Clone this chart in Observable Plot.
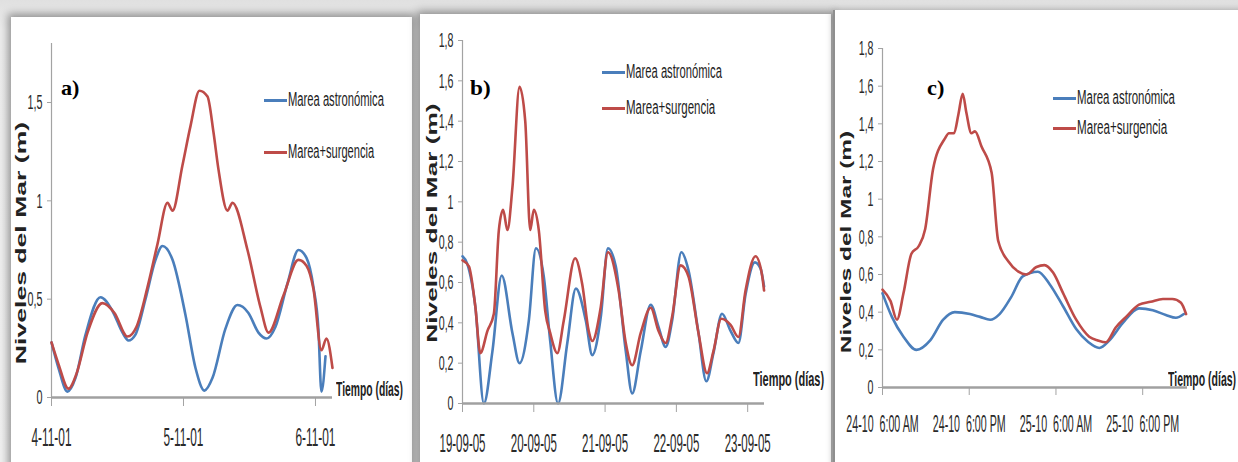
<!DOCTYPE html>
<html><head><meta charset="utf-8">
<script src="https://cdn.jsdelivr.net/npm/d3@7"></script>
<script src="https://cdn.jsdelivr.net/npm/@observablehq/plot@0.6"></script>
<style>
html,body{margin:0;padding:0;}
body{width:1238px;height:462px;overflow:hidden;position:relative;background:linear-gradient(#e0e0e0,#ececec 30px,#f0f0f0);}
.panel{position:absolute;background:#fff;}
.txt{position:absolute;white-space:pre;line-height:1;}
.sw{position:absolute;height:3px;}
</style></head><body>
<div class="panel" style="left:11px;top:17px;width:401px;height:460px;box-shadow:0 0 8px 3px rgba(0,0,0,.38)"></div>
<div class="panel" style="left:420px;top:14px;width:411px;height:460px;box-shadow:0 0 8px 3px rgba(0,0,0,.38)"></div>
<div class="panel" style="left:833px;top:10px;width:420px;height:460px;border-left:2px solid #8f8f8f;box-shadow:0 0 6px 1px rgba(0,0,0,.25)"></div>
<script>
// ---------- DATA ----------
const seriesNames = ["Marea astronómica", "Marea+surgencia"];
const yTitle = "Niveles del Mar (m)";
const xTitle = "Tiempo (días)";

// Panel a) — x in days from 4-11-01
const aTickPos = [0, 1, 2];
const aTickLabels = ["4-11-01", "5-11-01", "6-11-01"];
const aYTicks = [0, 0.5, 1, 1.5];
const aAstroT = [0, 0.053, 0.121, 0.182, 0.258, 0.371, 0.462, 0.538, 0.583, 0.636, 0.712, 0.788, 0.841, 0.917, 1.015, 1.091, 1.159, 1.220, 1.318, 1.409, 1.492, 1.568, 1.629, 1.697, 1.788, 1.871, 1.932, 1.985, 2.022, 2.045, 2.076];
const aAstroV = [0.28, 0.15, 0.03, 0.10, 0.32, 0.51, 0.44, 0.33, 0.29, 0.32, 0.50, 0.70, 0.77, 0.70, 0.42, 0.15, 0.035, 0.10, 0.35, 0.47, 0.43, 0.33, 0.30, 0.36, 0.58, 0.75, 0.71, 0.56, 0.35, 0.03, 0.21];
const aSurgeT = [0, 0.053, 0.129, 0.189, 0.273, 0.386, 0.477, 0.576, 0.644, 0.727, 0.803, 0.879, 0.917, 0.992, 1.053, 1.121, 1.182, 1.227, 1.265, 1.333, 1.371, 1.485, 1.583, 1.644, 1.758, 1.871, 1.932, 1.985, 2.045, 2.083, 2.129];
const aSurgeV = [0.28, 0.17, 0.045, 0.12, 0.33, 0.48, 0.43, 0.31, 0.36, 0.56, 0.78, 0.99, 0.95, 1.18, 1.38, 1.56, 1.53, 1.35, 1.16, 0.95, 0.99, 0.75, 0.46, 0.33, 0.52, 0.70, 0.67, 0.55, 0.24, 0.30, 0.15];

// Panel b) — x in days from 19-09-05
const bTickPos = [0, 1, 2, 3, 4];
const bTickLabels = ["19-09-05", "20-09-05", "21-09-05", "22-09-05", "23-09-05"];
const bYTicks = [0, 0.2, 0.4, 0.6, 0.8, 1, 1.2, 1.4, 1.6, 1.8];
const bAstroT = [0, 0.07, 0.18, 0.30, 0.42, 0.55, 0.70, 0.80, 0.93, 1.03, 1.14, 1.23, 1.34, 1.47, 1.59, 1.73, 1.82, 1.94, 2.04, 2.15, 2.29, 2.38, 2.50, 2.64, 2.75, 2.85, 2.94, 3.07, 3.17, 3.31, 3.42, 3.52, 3.64, 3.76, 3.87, 3.97, 4.10, 4.18, 4.23];
const bAstroV = [0.73, 0.69, 0.48, 0.0, 0.26, 0.635, 0.35, 0.20, 0.41, 0.77, 0.63, 0.31, 0.0, 0.30, 0.57, 0.41, 0.24, 0.43, 0.77, 0.68, 0.26, 0.05, 0.26, 0.49, 0.38, 0.28, 0.41, 0.75, 0.66, 0.35, 0.11, 0.25, 0.445, 0.36, 0.30, 0.54, 0.70, 0.67, 0.58];
const bSurgeT = [0, 0.09, 0.18, 0.25, 0.35, 0.44, 0.51, 0.57, 0.63, 0.70, 0.80, 0.88, 0.95, 1.00, 1.07, 1.16, 1.23, 1.33, 1.42, 1.58, 1.68, 1.77, 1.82, 1.94, 2.04, 2.19, 2.29, 2.38, 2.50, 2.64, 2.75, 2.85, 2.94, 3.06, 3.17, 3.31, 3.43, 3.52, 3.63, 3.76, 3.87, 3.97, 4.11, 4.20, 4.23];
const bSurgeV = [0.71, 0.68, 0.48, 0.25, 0.36, 0.445, 0.86, 0.96, 0.86, 1.07, 1.57, 1.40, 0.86, 0.96, 0.86, 0.46, 0.35, 0.25, 0.41, 0.72, 0.59, 0.36, 0.31, 0.48, 0.75, 0.56, 0.30, 0.19, 0.35, 0.475, 0.36, 0.30, 0.43, 0.685, 0.63, 0.35, 0.15, 0.26, 0.42, 0.39, 0.33, 0.56, 0.73, 0.64, 0.56];

// Panel c) — x in hours from 24-10 6:00 AM
const cTickPos = [0, 12, 24, 36];
const cTickLabels = ["24-10  6:00 AM", "24-10  6:00 PM", "25-10  6:00 AM", "25-10  6:00 PM"];
const cYTicks = [0, 0.2, 0.4, 0.6, 0.8, 1, 1.2, 1.4, 1.6, 1.8];
const cAstroT = [0, 1.3, 2.9, 4.7, 6.6, 8.4, 10.0, 12.1, 13.5, 14.9, 16.2, 17.8, 19.4, 21.5, 23.1, 25.0, 26.8, 28.5, 30.0, 31.4, 33.2, 35.5, 37.4, 39.2, 40.6, 41.7];
const cAstroV = [0.50, 0.375, 0.27, 0.20, 0.25, 0.36, 0.40, 0.39, 0.375, 0.36, 0.39, 0.48, 0.59, 0.615, 0.55, 0.43, 0.31, 0.24, 0.21, 0.25, 0.34, 0.42, 0.41, 0.385, 0.37, 0.39];
const cSurgeT = [0, 1.1, 2.0, 2.9, 4.0, 5.0, 5.9, 7.0, 8.6, 9.2, 9.9, 10.5, 11.1, 11.6, 12.3, 12.8, 13.7, 15.1, 16.0, 17.4, 18.8, 19.9, 21.3, 22.4, 23.6, 25.0, 26.8, 28.6, 29.8, 30.9, 32.3, 33.7, 35.5, 37.1, 38.8, 40.1, 41.3, 42.0];
const cSurgeV = [0.52, 0.46, 0.36, 0.50, 0.71, 0.75, 0.84, 1.16, 1.32, 1.35, 1.35, 1.45, 1.56, 1.46, 1.35, 1.36, 1.28, 1.14, 0.78, 0.67, 0.615, 0.60, 0.64, 0.65, 0.61, 0.50, 0.36, 0.27, 0.25, 0.24, 0.32, 0.375, 0.44, 0.455, 0.47, 0.47, 0.45, 0.39];

// ---------- RENDER ----------
const FONT = '"Liberation Sans", Arial, sans-serif';
const BLUE = "#4a7ebb", RED = "#be4b48", AXIS = "#a3a3a3";
const comma = d => String(d).replace(".", ",");
const rows = (T, V) => T.map((t, i) => ({t, v: V[i]}));

function squeeze(svg, sel, fs, targetW, mode) {
  const texts = [...svg.querySelectorAll(sel)];
  texts.forEach(t => { t.style.whiteSpace = "pre"; t.style.fontSize = fs + "px"; t.style.fontFamily = FONT; t.style.fill = "#2a2a2a"; });
  let maxW = 0;
  texts.forEach(t => { maxW = Math.max(maxW, t.getBBox().width); });
  const sx = maxW ? targetW / maxW : 1;
  texts.forEach(t => {
    const b = t.getBBox();
    const ax = mode === "end" ? b.x + b.width : b.x + b.width / 2;
    const ay = b.y + b.height / 2;
    const tr = t.getAttribute("transform") || "";
    t.setAttribute("transform", `${tr} translate(${ax},${ay}) scale(${sx},1) translate(${-ax},${-ay})`);
  });
}

function panel(c) {
  const chart = Plot.plot({
    width: c.w, height: 462,
    marginLeft: c.ml, marginRight: c.mr, marginTop: c.mt, marginBottom: c.mb,
    x: {domain: [0, c.xMax], label: null},
    y: {domain: [0, 1.8], label: null},
    marks: [
      Plot.ruleX([0], {stroke: AXIS, strokeWidth: 1.2}),
      Plot.axisY({ticks: c.yTicks, tickSize: 4, tickPadding: 5, tickFormat: comma, fontSize: 21, stroke: AXIS, fill: "#2a2a2a", label: null}),
      Plot.axisX({ticks: c.xTicks, tickSize: c.ts, tickPadding: c.tp, tickFormat: d => c.xLabels[c.xTicks.indexOf(d)], fontSize: c.xfs, stroke: AXIS, fill: "#2a2a2a", label: null}),
      Plot.line(rows(c.aT, c.aV), {x: "t", y: "v", stroke: BLUE, strokeWidth: 2.6, curve: "monotone-x"}),
      Plot.line(rows(c.sT, c.sV), {x: "t", y: "v", stroke: RED, strokeWidth: 2.6, curve: "monotone-x"}),
      Plot.ruleY([0], {stroke: "#a0a0a0", strokeWidth: 2.5})
    ]
  });
  chart.style.position = "absolute";
  chart.style.left = c.left + "px";
  chart.style.top = "0px";
  chart.style.background = "transparent";
  chart.style.overflow = "visible";
  chart.style.maxWidth = "none";
  chart.style.fontFamily = FONT;
  document.body.appendChild(chart);
  squeeze(chart, 'g[aria-label="y-axis tick label"] text', 21, 15, "end");
  squeeze(chart, 'g[aria-label="x-axis tick label"] text', c.xfs, c.xlw, "middle");
}

function addText(str, o) {
  const s = document.createElement("span");
  s.className = "txt";
  s.textContent = str;
  s.style.fontSize = o.size + "px";
  s.style.fontFamily = o.family || FONT;
  s.style.fontWeight = o.weight || "normal";
  s.style.color = o.color || "#1e1e1e";
  document.body.appendChild(s);
  const w = s.offsetWidth, h = s.offsetHeight;
  const k = o.width ? o.width / w : 1;
  if (o.rotate) {
    s.style.left = (o.cx - w / 2) + "px";
    s.style.top = (o.cy - h / 2) + "px";
    s.style.transformOrigin = "50% 50%";
    s.style.transform = `rotate(-90deg) scaleX(${k})`;
  } else {
    s.style.left = o.x + "px";
    s.style.top = (o.cy - h / 2) + "px";
    s.style.transformOrigin = "0 50%";
    s.style.transform = `scaleX(${k})`;
  }
}
function swatch(x, y, color) {
  const d = document.createElement("div");
  d.className = "sw";
  d.style.left = x + "px"; d.style.top = (y - 1.5) + "px";
  d.style.width = "23px"; d.style.background = color;
  document.body.appendChild(d);
}

panel({left: 0, w: 415, ml: 51, mr: 83, mt: 43, mb: 65, xMax: 2.129,
  xTicks: aTickPos, xLabels: aTickLabels, yTicks: aYTicks, ts: 9, tp: 22, xfs: 25, xlw: 40,
  aT: aAstroT, aV: aAstroV, sT: aSurgeT, sV: aSurgeV});
panel({left: 415, w: 420, ml: 47, mr: 71, mt: 40, mb: 59, xMax: 4.236,
  xTicks: bTickPos, xLabels: bTickLabels, yTicks: bYTicks, ts: 9, tp: 22, xfs: 25, xlw: 46,
  aT: bAstroT, aV: bAstroV, sT: bSurgeT, sV: bSurgeV});
panel({left: 830, w: 408, ml: 52, mr: 51, mt: 48, mb: 75, xMax: 42.2,
  xTicks: cTickPos, xLabels: cTickLabels, yTicks: cYTicks, ts: 8, tp: 19, xfs: 24, xlw: 73,
  aT: cAstroT, aV: cAstroV, sT: cSurgeT, sV: cSurgeV});

// legends
const legends = [
  {x: 264, y1: 100, y2: 152, w1: 96, w2: 86},
  {x: 602, y1: 72, y2: 108, w1: 96, w2: 89},
  {x: 1053, y1: 98, y2: 128, w1: 98, w2: 90}
];
legends.forEach(L => {
  swatch(L.x, L.y1, BLUE); swatch(L.x, L.y2, RED);
  addText(seriesNames[0], {x: L.x + 24, cy: L.y1, size: 19.5, width: L.w1});
  addText(seriesNames[1], {x: L.x + 24, cy: L.y2, size: 19.5, width: L.w2});
});
// panel letters
const panelLetters = ["a)", "b)", "c)"];
[[61, 19], [470, 21], [927, 17]].forEach(([x, w], i) =>
  addText(panelLetters[i], {x, cy: 88, size: 21, width: w, weight: "bold", family: '"Liberation Serif", "Times New Roman", serif', color: "#000"}));
// axis titles
[[336, 388, 67], [753, 378, 71], [1168, 378, 68]].forEach(([x, cy, w]) =>
  addText(xTitle, {x, cy, size: 21, width: w, weight: "bold", color: "#222"}));
[[21, 243, 243], [432, 223, 240], [846, 242, 223]].forEach(([cx, cy, len]) =>
  addText(yTitle, {cx, cy, size: 14, width: len, weight: "bold", rotate: true, color: "#222"}));
</script>
</body></html>
